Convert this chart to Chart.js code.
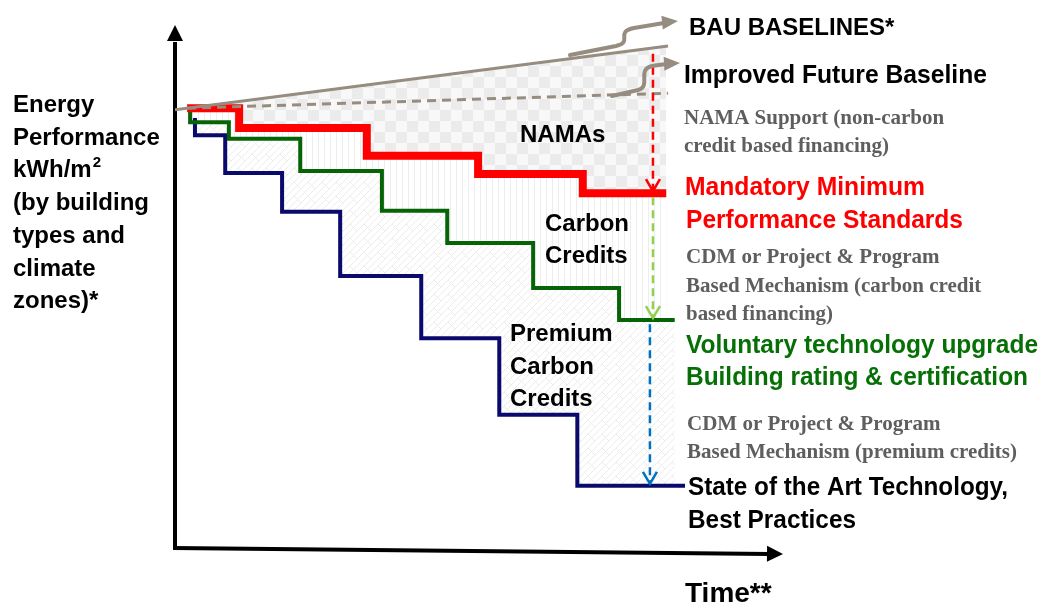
<!DOCTYPE html>
<html>
<head>
<meta charset="utf-8">
<script src="https://cdn.jsdelivr.net/npm/chart.js@4.4.0/dist/chart.umd.min.js"></script>
<style>
  body { margin: 0; background: #fff; }
</style>
</head>
<body>
<canvas id="chart" width="1038" height="605"></canvas>
<script>
// time / energy performance, both on a 0-100 scale (conceptual diagram)
const bauTime = [0, 81.5];
const bauLevel = [84.6, 96.9];
const improvedTime = [2.0, 81.5];
const improvedLevel = [84.9, 87.8];

// stepped lines: levels[0] is the start, levels[i] is held up to times[i]
const mandatoryTime = [2.0, 10.6, 31.7, 50.1, 67.4, 81.2];
const mandatoryLevel = [84.9, 84.9, 81.1, 75.7, 72.2, 68.5];
const voluntaryTime = [2.5, 8.9, 20.7, 34.2, 45.0, 59.2, 73.4, 82.6];
const voluntaryLevel = [84.6, 82.2, 79.0, 72.8, 65.1, 58.9, 50.2, 44.0];
const stateArtTime = [3.3, 8.3, 17.7, 27.3, 40.7, 53.6, 66.5, 84.3];
const stateArtLevel = [83.0, 79.7, 72.4, 64.9, 52.5, 40.5, 25.7, 12.0];

const arrowTimes = [79.0, 79.0, 78.5];

const taupe = '#978c80';

function toPoints(times, levels) {
  return times.map((t, i) => ({ x: t, y: levels[i] }));
}

function makePattern(size, draw) {
  const c = document.createElement('canvas');
  c.width = size; c.height = size;
  const g = c.getContext('2d');
  g.fillStyle = '#fff';
  g.fillRect(0, 0, size, size);
  draw(g);
  return document.getElementById('chart').getContext('2d').createPattern(c, 'repeat');
}

const checker = makePattern(22, g => {
  g.fillStyle = '#f8f8f8';
  g.fillRect(0, 0, 22, 22);
  g.fillStyle = '#ebebeb';
  g.fillRect(0, 0, 11, 11);
  g.fillRect(11, 11, 11, 11);
});
const stripes = makePattern(6, g => {
  g.fillStyle = '#eeeeee';
  g.fillRect(0, 0, 1, 6);
});
const weave = makePattern(14, g => {
  g.strokeStyle = '#ececec';
  g.lineWidth = 1;
  g.beginPath();
  g.moveTo(0, 14); g.lineTo(14, 0);
  g.moveTo(0, 7); g.lineTo(7, 0);
  g.moveTo(7, 14); g.lineTo(14, 7);
  g.moveTo(0, 0); g.lineTo(7, 7);
  g.stroke();
});

function arrowHead(ctx, x, y, angle, len, half, filled) {
  ctx.save();
  ctx.translate(x, y);
  ctx.rotate(angle);
  ctx.beginPath();
  ctx.moveTo(-len, -half);
  ctx.lineTo(0, 0);
  ctx.lineTo(-len, half);
  if (filled) { ctx.closePath(); ctx.fill(); } else { ctx.stroke(); }
  ctx.restore();
}

function txt(ctx, s, x, y, font, color, maxW) {
  ctx.font = font;
  ctx.fillStyle = color;
  if (maxW) ctx.fillText(s, x, y, maxW); else ctx.fillText(s, x, y);
}

const decor = {
  id: 'decor',
  beforeDatasetsDraw(chart) {
    const ctx = chart.ctx;
    const a = chart.chartArea;
    ctx.save();
    ctx.strokeStyle = '#000';
    ctx.fillStyle = '#000';
    ctx.lineWidth = 4;
    ctx.beginPath();
    ctx.moveTo(a.left, a.bottom + 2);
    ctx.lineTo(a.left, a.top + 12);
    ctx.stroke();
    arrowHead(ctx, a.left, a.top - 5, -Math.PI / 2, 16, 8, true);
    ctx.beginPath();
    ctx.moveTo(a.left - 2, a.bottom);
    ctx.lineTo(a.right - 10, a.bottom + 6);
    ctx.stroke();
    arrowHead(ctx, a.right + 3, a.bottom + 6, 0.01, 16, 8, true);
    ctx.restore();
  },
  afterDatasetsDraw(chart) {
    const ctx = chart.ctx;
    const xs = chart.scales.x, ys = chart.scales.y;
    ctx.save();

    // dashed vertical arrows between the targets
    const legs = [
      [bauLevel[1] - 1.5, mandatoryLevel[mandatoryLevel.length - 1], '#ff0000'],
      [mandatoryLevel[mandatoryLevel.length - 1] - 0.8, voluntaryLevel[voluntaryLevel.length - 1], '#92d050'],
      [voluntaryLevel[voluntaryLevel.length - 1] - 0.8, stateArtLevel[stateArtLevel.length - 1], '#0070c0']
    ];
    legs.forEach((l, i) => {
      const px = xs.getPixelForValue(arrowTimes[i]);
      const y1 = ys.getPixelForValue(l[0]);
      const y2 = ys.getPixelForValue(l[1]) - 2;
      ctx.strokeStyle = l[2];
      ctx.lineWidth = 2.5;
      ctx.setLineDash([8, 5]);
      ctx.beginPath();
      ctx.moveTo(px, y1);
      ctx.lineTo(px, y2);
      ctx.stroke();
      ctx.setLineDash([]);
      arrowHead(ctx, px, y2, Math.PI / 2, 12, 7, false);
    });

    // squiggly baseline arrows
    ctx.strokeStyle = taupe;
    ctx.fillStyle = taupe;
    ctx.lineWidth = 4;
    ctx.lineCap = 'round';
    ctx.beginPath();
    ctx.moveTo(570, 55);
    ctx.lineTo(616, 46);
    ctx.bezierCurveTo(634, 42, 614, 32, 634, 28);
    ctx.lineTo(664, 23);
    ctx.stroke();
    arrowHead(ctx, 678, 21, -0.1, 16, 7, true);
    ctx.beginPath();
    ctx.moveTo(612, 96);
    ctx.lineTo(638, 90);
    ctx.bezierCurveTo(652, 86, 636, 70, 652, 66);
    ctx.lineTo(666, 64);
    ctx.stroke();
    arrowHead(ctx, 680, 63, -0.05, 16, 7, true);

    ctx.textBaseline = 'alphabetic';
    const sans = 'bold 24px "Liberation Sans", Arial, sans-serif';
    const big = 'bold 25px "Liberation Sans", Arial, sans-serif';
    const serif = 'bold 21px "Liberation Serif", "Times New Roman", serif';
    const grey = '#5e5e5e';

    // y axis title
    const ylines = ['Energy', 'Performance', 'kWh/m', '(by building', 'types and', 'climate', 'zones)*'];
    ylines.forEach((s, i) => txt(ctx, s, 13, 112 + i * 32.7, sans, '#000', 152));
    ctx.font = sans;
    const w = ctx.measureText('kWh/m').width;
    txt(ctx, '2', 13 + w + 1, 167, 'bold 15px "Liberation Sans", Arial, sans-serif', '#000');

    txt(ctx, 'Time**', 685, 602, 'bold 28px "Liberation Sans", Arial, sans-serif', '#000', 92);

    // region labels
    txt(ctx, 'NAMAs', 520, 142, sans, '#000');
    txt(ctx, 'Carbon', 545, 231, sans, '#000');
    txt(ctx, 'Credits', 545, 263, sans, '#000');
    txt(ctx, 'Premium', 510, 341, sans, '#000');
    txt(ctx, 'Carbon', 510, 374, sans, '#000');
    txt(ctx, 'Credits', 510, 406, sans, '#000');

    // right hand annotations
    txt(ctx, 'BAU BASELINES*', 689, 35, sans, '#000', 210);
    txt(ctx, 'Improved Future Baseline', 684, 83, big, '#000', 303);
    txt(ctx, 'NAMA Support (non-carbon', 684, 124, serif, grey, 263);
    txt(ctx, 'credit based financing)', 684, 152, serif, grey, 207);
    txt(ctx, 'Mandatory Minimum', 685, 195, big, '#ff0000', 240);
    txt(ctx, 'Performance Standards', 686, 228, big, '#ff0000', 277);
    txt(ctx, 'CDM or Project & Program', 686, 263, serif, grey, 254);
    txt(ctx, 'Based Mechanism (carbon credit', 686, 292, serif, grey, 297);
    txt(ctx, 'based financing)', 686, 320, serif, grey, 147);
    txt(ctx, 'Voluntary technology upgrade', 686, 353, big, '#067006', 352);
    txt(ctx, 'Building rating & certification', 686, 385, big, '#067006', 342);
    txt(ctx, 'CDM or Project & Program', 687, 430, serif, grey, 255);
    txt(ctx, 'Based Mechanism (premium credits)', 687, 458, serif, grey, 332);
    txt(ctx, 'State of the Art Technology,', 688, 495, big, '#000', 320);
    txt(ctx, 'Best Practices', 688, 528, big, '#000', 168);
    ctx.restore();
  }
};

new Chart(document.getElementById('chart'), {
  type: 'line',
  data: {
    datasets: [
      {
        label: 'BAU baselines',
        data: toPoints(bauTime, bauLevel),
        borderColor: taupe,
        borderWidth: 3,
        pointRadius: 0,
        fill: false
      },
      {
        label: 'Improved future baseline',
        data: toPoints(improvedTime, improvedLevel),
        borderColor: taupe,
        borderWidth: 3,
        borderDash: [9, 6],
        pointRadius: 0,
        fill: false
      },
      {
        label: 'Mandatory minimum performance standards',
        data: toPoints(mandatoryTime, mandatoryLevel),
        borderColor: '#ff0000',
        borderWidth: 8,
        stepped: 'after',
        pointRadius: 0,
        borderJoinStyle: 'miter',
        fill: { target: 0 },
        backgroundColor: checker
      },
      {
        label: 'Voluntary technology upgrade',
        data: toPoints(voluntaryTime, voluntaryLevel),
        borderColor: '#066406',
        borderWidth: 4,
        stepped: 'after',
        pointRadius: 0,
        borderJoinStyle: 'miter',
        fill: { target: 2 },
        backgroundColor: stripes
      },
      {
        label: 'State of the art technology',
        data: toPoints(stateArtTime, stateArtLevel),
        borderColor: '#0a0a6e',
        borderWidth: 4,
        stepped: 'after',
        pointRadius: 0,
        borderJoinStyle: 'miter',
        fill: { target: 3 },
        backgroundColor: weave
      }
    ]
  },
  options: {
    responsive: false,
    animation: false,
    layout: { padding: { left: 175, right: 258, top: 30, bottom: 57 } },
    scales: {
      x: { type: 'linear', min: 0, max: 100, display: false },
      y: { type: 'linear', min: 0, max: 100, display: false }
    },
    plugins: {
      legend: { display: false },
      tooltip: { enabled: false },
      filler: { drawTime: 'beforeDatasetsDraw' }
    }
  },
  plugins: [decor]
});
</script>
</body>
</html>
